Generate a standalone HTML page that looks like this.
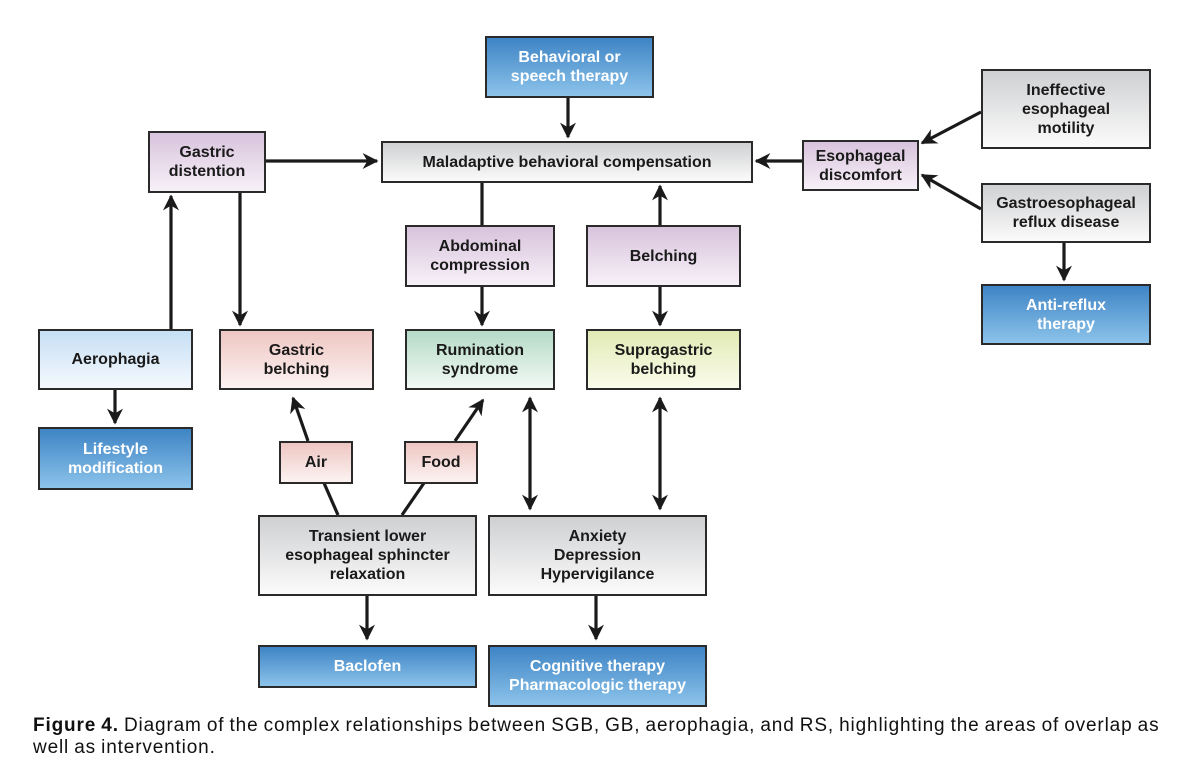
<!DOCTYPE html>
<html><head><meta charset="utf-8"><style>
body{margin:0;width:1200px;height:768px;background:#fff;position:relative;overflow:hidden;font-family:"Liberation Sans",Arial,sans-serif;}
.b{position:absolute;box-sizing:border-box;border:2px solid #2a2a2a;display:flex;align-items:center;justify-content:center;text-align:center;font-weight:bold;font-size:16px;line-height:19px;color:#1a1a1a;}
.g{background:linear-gradient(#cfd0d2,#fbfbfb);}
.p{background:linear-gradient(#d8c3dc,#f7f0f8);}
.bl{background:linear-gradient(#3e84c5,#8cc3ea);color:#fff;}
.a{background:linear-gradient(#c6dff4,#f5f9fe);}
.pk{background:linear-gradient(#eec6c2,#fcf3f2);}
.gr{background:linear-gradient(#b4dac6,#f3f9f5);}
.y{background:linear-gradient(#e1eab3,#fbfcec);}
svg{position:absolute;left:0;top:0;}
.cap{position:absolute;left:33px;top:715px;width:1160px;font-size:19px;line-height:22px;color:#111;letter-spacing:0.85px;word-spacing:-1px;white-space:nowrap;}
</style></head><body>
<svg width="1200" height="768">
<defs><marker id="m" viewBox="0 0 10 10" refX="9" refY="5" markerWidth="5" markerHeight="5" orient="auto-start-reverse"><path d="M0,0 L10,5 L0,10 L3,5 z" fill="#1a1a1a"/></marker></defs>
<g stroke="#1a1a1a" stroke-width="3.2" fill="none">
<line x1="568" y1="97" x2="568" y2="137" marker-end="url(#m)"/>
<line x1="266" y1="161" x2="377" y2="161" marker-end="url(#m)"/>
<line x1="802" y1="161" x2="756" y2="161" marker-end="url(#m)"/>
<line x1="981" y1="112" x2="922" y2="143" marker-end="url(#m)"/>
<line x1="981" y1="209" x2="922" y2="175" marker-end="url(#m)"/>
<line x1="1064" y1="242" x2="1064" y2="280" marker-end="url(#m)"/>
<line x1="482" y1="182" x2="482" y2="225"/>
<line x1="660" y1="225" x2="660" y2="186" marker-end="url(#m)"/>
<line x1="482" y1="286" x2="482" y2="325" marker-end="url(#m)"/>
<line x1="660" y1="286" x2="660" y2="325" marker-end="url(#m)"/>
<line x1="171" y1="329" x2="171" y2="196" marker-end="url(#m)"/>
<line x1="240" y1="192" x2="240" y2="325" marker-end="url(#m)"/>
<line x1="115" y1="389" x2="115" y2="423" marker-end="url(#m)"/>
<line x1="308" y1="441" x2="293" y2="398" marker-end="url(#m)"/>
<line x1="455" y1="441" x2="483" y2="400" marker-end="url(#m)"/>
<line x1="338" y1="515" x2="324" y2="483"/>
<line x1="402" y1="515" x2="424" y2="483"/>
<line x1="530" y1="398" x2="530" y2="509" marker-start="url(#m)" marker-end="url(#m)"/>
<line x1="660" y1="398" x2="660" y2="509" marker-start="url(#m)" marker-end="url(#m)"/>
<line x1="367" y1="595" x2="367" y2="639" marker-end="url(#m)"/>
<line x1="596" y1="595" x2="596" y2="639" marker-end="url(#m)"/>
</g></svg>
<div class="b bl" style="left:485px;top:36px;width:169px;height:62px">Behavioral or<br>speech therapy</div>
<div class="b g" style="left:381px;top:141px;width:372px;height:42px">Maladaptive behavioral compensation</div>
<div class="b p" style="left:148px;top:131px;width:118px;height:62px">Gastric<br>distention</div>
<div class="b p" style="left:802px;top:140px;width:117px;height:51px">Esophageal<br>discomfort</div>
<div class="b g" style="left:981px;top:69px;width:170px;height:80px">Ineffective<br>esophageal<br>motility</div>
<div class="b g" style="left:981px;top:183px;width:170px;height:60px">Gastroesophageal<br>reflux disease</div>
<div class="b bl" style="left:981px;top:284px;width:170px;height:61px">Anti-reflux<br>therapy</div>
<div class="b p" style="left:405px;top:225px;width:150px;height:62px">Abdominal<br>compression</div>
<div class="b p" style="left:586px;top:225px;width:155px;height:62px">Belching</div>
<div class="b a" style="left:38px;top:329px;width:155px;height:61px">Aerophagia</div>
<div class="b pk" style="left:219px;top:329px;width:155px;height:61px">Gastric<br>belching</div>
<div class="b gr" style="left:405px;top:329px;width:150px;height:61px">Rumination<br>syndrome</div>
<div class="b y" style="left:586px;top:329px;width:155px;height:61px">Supragastric<br>belching</div>
<div class="b bl" style="left:38px;top:427px;width:155px;height:63px">Lifestyle<br>modification</div>
<div class="b pk" style="left:279px;top:441px;width:74px;height:43px">Air</div>
<div class="b pk" style="left:404px;top:441px;width:74px;height:43px">Food</div>
<div class="b g" style="left:258px;top:515px;width:219px;height:81px">Transient lower<br>esophageal sphincter<br>relaxation</div>
<div class="b g" style="left:488px;top:515px;width:219px;height:81px">Anxiety<br>Depression<br>Hypervigilance</div>
<div class="b bl" style="left:258px;top:645px;width:219px;height:43px">Baclofen</div>
<div class="b bl" style="left:488px;top:645px;width:219px;height:62px">Cognitive therapy<br>Pharmacologic therapy</div>
<div class="cap"><b>Figure 4.</b> Diagram of the complex relationships between SGB, GB, aerophagia, and RS, highlighting the areas of overlap as<br>well as intervention.</div>
</body></html>
